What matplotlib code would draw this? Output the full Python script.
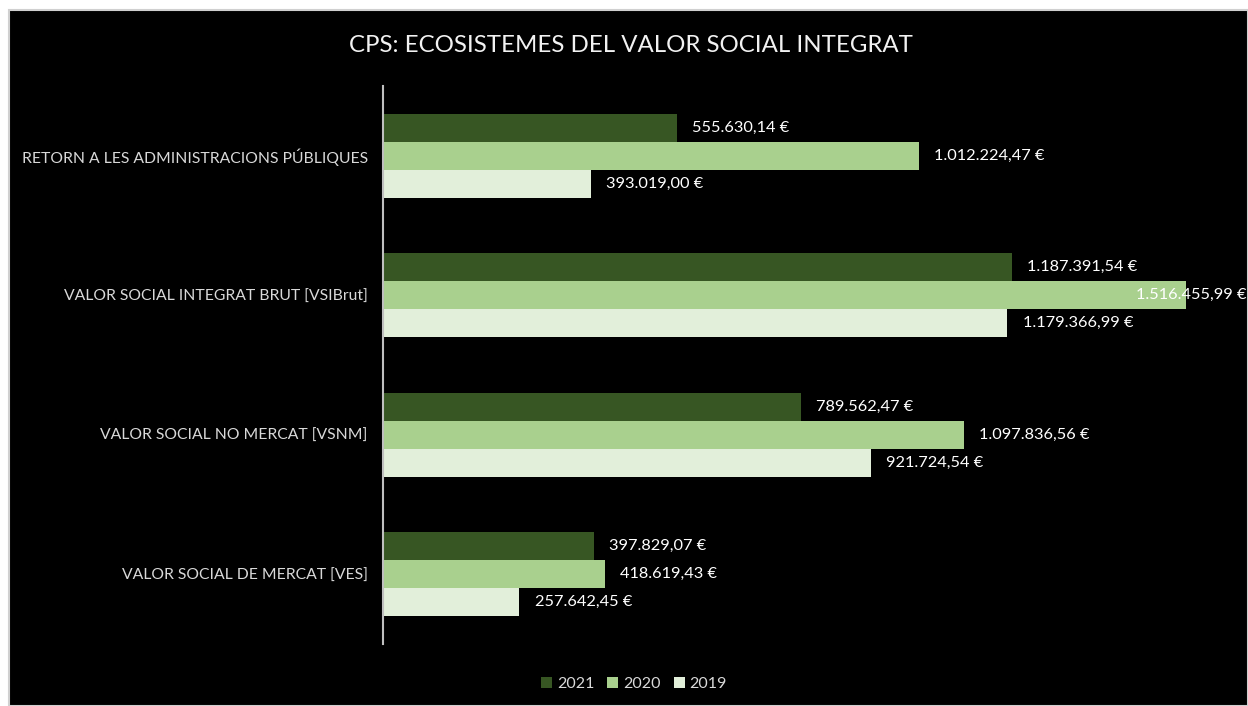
import numpy as np
import matplotlib
matplotlib.use("Agg")
from matplotlib import pyplot as plt
from matplotlib.patches import Rectangle

plt.rcParams["font.family"] = ["Lato", "DejaVu Sans"]

categories = [
    "RETORN A LES ADMINISTRACIONS PÚBLIQUES",
    "VALOR SOCIAL INTEGRAT BRUT [VSIBrut]",
    "VALOR SOCIAL NO MERCAT [VSNM]",
    "VALOR SOCIAL DE MERCAT [VES]",
]
years = ["2021", "2020", "2019"]
values = {
    "2021": [555630.14, 1187391.54, 789562.47, 397829.07],
    "2020": [1012224.47, 1516455.99, 1097836.56, 418619.43],
    "2019": [393019.00, 1179366.99, 921724.54, 257642.45],
}
colors = {"2021": "#375623", "2020": "#A9D08E", "2019": "#E2EFDA"}


def euro(v):
    s = f"{v:,.2f}".replace(",", "X").replace(".", ",").replace("X", ".")
    return s + " €"


fig = plt.figure(figsize=(12.48, 7.06), dpi=100, facecolor="white")
fig.patches.append(Rectangle((9 / 1248, 0), 1 - 9 / 1248, 1 - 10 / 706,
                             transform=fig.transFigure, facecolor="black",
                             edgecolor="#d0d0d0", linewidth=1.5, zorder=-10))

ax = fig.add_axes([383 / 1248, 62 / 706, (1230 - 383) / 1248, (644 - 86) / 706])
ax.set_facecolor("black")

n = len(categories)
y = np.arange(n)[::-1].astype(float)
h = 0.2
for i, yr in enumerate(years):
    pos = y + (1 - i) * h
    ax.barh(pos, values[yr], height=h, color=colors[yr], label=yr)
    for p, v in zip(pos, values[yr]):
        if v > 1.4e6:
            # label would run off the chart: pull it back inside the figure
            ax.annotate(euro(v), (1246 / 1248, p), xycoords=("figure fraction", "data"),
                        va="center", ha="right", color="white", fontsize=11.8,
                        annotation_clip=False)
        else:
            ax.annotate(euro(v), (v, p), xytext=(11, 0), textcoords="offset points",
                        va="center", ha="left", color="white", fontsize=11.8)

ax.set_xlim(0, 1600000)
ax.set_ylim(-0.5, n - 0.5)
ax.set_xticks([])
ax.set_yticks(y)
ax.set_yticklabels(categories, color="#d9d9d9", fontsize=11.3)
ax.tick_params(axis="y", length=0, pad=11)
for s in ["top", "right", "bottom"]:
    ax.spines[s].set_visible(False)
ax.spines["left"].set_color("#bfbfbf")
ax.spines["left"].set_linewidth(1.5)

fig.text(631 / 1248, 1 - 45 / 706, "CPS: ECOSISTEMES DEL VALOR SOCIAL INTEGRAT",
         ha="center", va="center", color="#f2f2f2", fontsize=17.3)

leg = fig.legend(loc="center", bbox_to_anchor=(634 / 1248, 1 - 684 / 706), ncol=3,
                 frameon=False, fontsize=11.5, handlelength=0.7, handleheight=0.7,
                 handletextpad=0.3, columnspacing=0.8)
for t in leg.get_texts():
    t.set_color("#d9d9d9")

plt.savefig("out.png", dpi=100, facecolor=fig.get_facecolor())
